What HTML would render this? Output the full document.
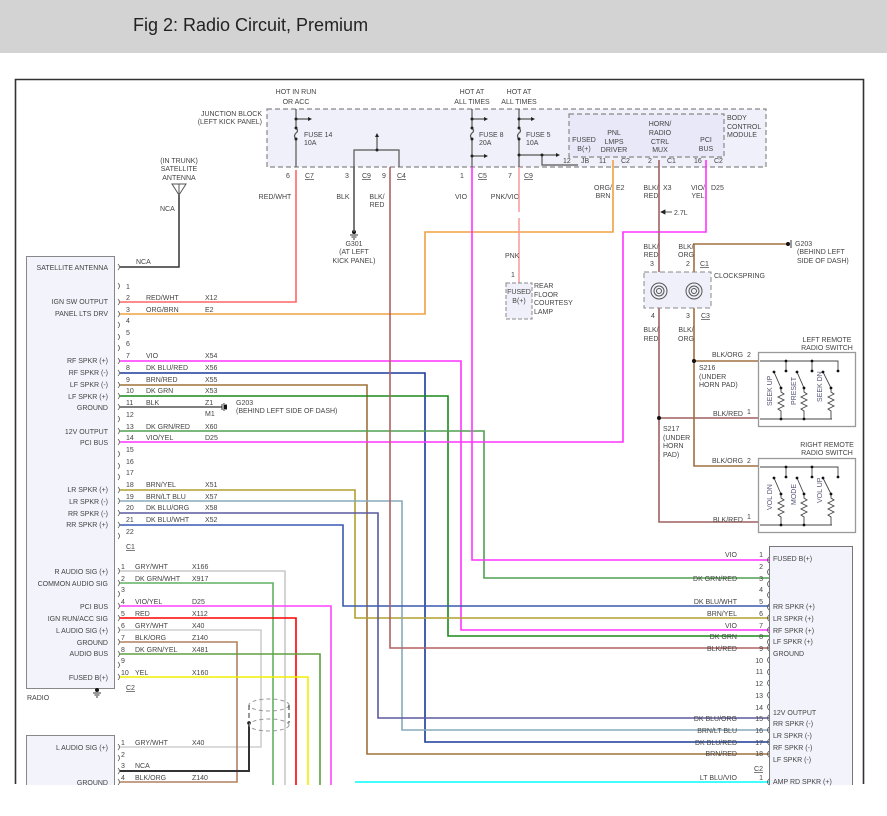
<!DOCTYPE html>
<html><head><meta charset="utf-8"><style>
html,body{margin:0;padding:0;background:#fff;}
svg{display:block;}
text{font-family:"Liberation Sans",sans-serif;font-size:7px;fill:#444;}
.l{text-anchor:end;}
.m{text-anchor:middle;}
</style></head><body>
<svg width="887" height="816" viewBox="0 0 887 816" xmlns="http://www.w3.org/2000/svg">
<rect x="0" y="0" width="887" height="53" fill="#d3d3d3"/>
<text x="133" y="31" style="font-size:18px;fill:#222;">Fig 2: Radio Circuit, Premium</text>
<path d="M15.5 784 V79.5 H863.5 V784" fill="none" stroke="#333" stroke-width="1.6"/>

<rect x="267" y="109" width="499" height="58" fill="#f0f0fa" stroke="#888" stroke-width="1.2" stroke-dasharray="5,3"/>
<rect x="569" y="114" width="155" height="43" fill="#e8e8f8" stroke="#888" stroke-width="1.2" stroke-dasharray="5,3"/>
<text class="l" x="262" y="116">JUNCTION BLOCK</text>
<text class="l" x="262" y="124">(LEFT KICK PANEL)</text>
<text class="m" x="296" y="94">HOT IN RUN</text><text class="m" x="296" y="104">OR ACC</text>
<text class="m" x="472" y="94">HOT AT</text><text class="m" x="472" y="104">ALL TIMES</text>
<text class="m" x="519" y="94">HOT AT</text><text class="m" x="519" y="104">ALL TIMES</text>
<text x="727" y="120">BODY</text><text x="727" y="129">CONTROL</text><text x="727" y="137">MODULE</text>
<text class="m" x="584" y="142">FUSED</text><text class="m" x="584" y="151">B(+)</text>
<text class="m" x="614" y="135">PNL</text><text class="m" x="614" y="144">LMPS</text><text class="m" x="614" y="152">DRIVER</text>
<text class="m" x="660" y="126">HORN/</text><text class="m" x="660" y="135">RADIO</text><text class="m" x="660" y="144">CTRL</text><text class="m" x="660" y="152">MUX</text>
<text class="m" x="706" y="142">PCI</text><text class="m" x="706" y="151">BUS</text>
<g stroke="#555" stroke-width="1.2" fill="none">
<path d="M296 109 V128 M296 139 V167 M296 119 H308"/>
<path d="M296 128 q3 3 0 5 q-3 3 0 6"/>
<path d="M472 109 V128 M472 139 V167 M472 119 H484 M472 156 H484"/>
<path d="M472 128 q3 3 0 5 q-3 3 0 6"/>
<path d="M519 109 V128 M519 139 V167 M519 119 H531 M519 155 H556 M542 155 V165 H578"/>
<path d="M519 128 q3 3 0 5 q-3 3 0 6"/>
<path d="M354 167 V150 H399 V167 M377 150 V136"/>
</g>
<g fill="#222"><circle cx="296" cy="119" r="1.5"/><circle cx="296" cy="128" r="1.5"/><circle cx="296" cy="139" r="1.5"/>
<circle cx="472" cy="119" r="1.5"/><circle cx="472" cy="128" r="1.5"/><circle cx="472" cy="139" r="1.5"/><circle cx="472" cy="156" r="1.5"/>
<circle cx="519" cy="119" r="1.5"/><circle cx="519" cy="128" r="1.5"/><circle cx="519" cy="139" r="1.5"/><circle cx="519" cy="155" r="1.5"/><circle cx="542" cy="155" r="1.5"/><circle cx="377" cy="150" r="1.5"/>
<path d="M308 117 l4 2 l-4 2z M484 117 l4 2 l-4 2z M484 154 l4 2 l-4 2z M531 117 l4 2 l-4 2z M556 153 l4 2 l-4 2z M375 137 l2 -4 l2 4z"/></g>
<text x="304" y="137">FUSE 14</text><text x="304" y="145">10A</text>
<text x="479" y="137">FUSE 8</text><text x="479" y="145">20A</text>
<text x="526" y="137">FUSE 5</text><text x="526" y="145">10A</text>
<text x="286" y="178">6</text><text x="305" y="178" text-decoration="underline">C7</text>
<text x="345" y="178">3</text><text x="362" y="178" text-decoration="underline">C9</text>
<text x="382" y="178">9</text><text x="397" y="178" text-decoration="underline">C4</text>
<text x="460" y="178">1</text><text x="478" y="178" text-decoration="underline">C5</text>
<text x="508" y="178">7</text><text x="524" y="178" text-decoration="underline">C9</text>
<text x="563" y="163">12</text><text x="581" y="163">JB</text>
<text x="599" y="163">11</text><text x="621" y="163">C2</text>
<text x="648" y="163">2</text><text x="667" y="163">C1</text>
<text x="694" y="163">16</text><text x="714" y="163">C2</text>
<text class="m" x="275" y="199">RED/WHT</text>
<text class="m" x="343" y="199">BLK</text>
<text class="m" x="377" y="199">BLK/</text><text class="m" x="377" y="207">RED</text>
<text class="m" x="461" y="199">VIO</text>
<text class="m" x="505" y="199">PNK/VIO</text>
<text class="m" x="603" y="190">ORG/</text><text class="m" x="603" y="198">BRN</text><text x="616" y="190">E2</text>
<text class="m" x="651" y="190">BLK/</text><text class="m" x="651" y="198">RED</text><text x="663" y="190">X3</text>
<text class="m" x="698" y="190">VIO/</text><text class="m" x="698" y="198">YEL</text><text x="711" y="190">D25</text>
<text x="674" y="215">2.7L</text>
<path d="M661 212 l4 -2 v4z M665 212 H672" fill="#222" stroke="#222" stroke-width="0.8"/>
<text class="m" x="354" y="246">G301</text><text class="m" x="354" y="254">(AT LEFT</text><text class="m" x="354" y="263">KICK PANEL)</text>
<circle cx="354" cy="232" r="2" fill="#111"/><path d="M350 235 H358 M351.5 237 H356.5 M353 239 H355" stroke="#333"/>
<text class="m" x="179" y="163">(IN TRUNK)</text><text class="m" x="179" y="171">SATELLITE</text><text class="m" x="179" y="180">ANTENNA</text>
<path d="M172 184 H186 L179 195 Z M179 184 V195" fill="none" stroke="#555"/>
<text x="160" y="211">NCA</text>
<path d="M120 267 H179 V195" fill="none" stroke="#333" stroke-width="1.5"/>
<text x="136" y="264">NCA</text>

<rect x="26.5" y="256.5" width="88" height="432" fill="#f3f3fc" stroke="#888"/>
<text x="27" y="700">RADIO</text>
<circle cx="97" cy="690" r="2" fill="#111"/><path d="M93 693 H101 M94.5 695 H99.5 M96 697 H98" stroke="#333"/>
<rect x="26.5" y="735.5" width="88" height="60" fill="#f3f3fc" stroke="#888"/>
<rect x="0" y="785" width="887" height="31" fill="#fff"/>

<g fill="none" stroke-width="1.6">
<path d="M120 302 H296 V170" stroke="#f66"/>
<path d="M120 314 H425 V232 H613 V160" stroke="#f0a040"/>
<path d="M120 361 H461 V630 H769" stroke="#ff33ff"/>
<path d="M120 373 H425 V742 H769" stroke="#1a3a9a"/>
<path d="M120 385 H367 V754 H769" stroke="#a0703a"/>
<path d="M120 396 H448 V636 H769" stroke="#1a8a1a"/>
<path d="M120 407 H222" stroke="#555"/>
<path d="M120 431 H484 V578 H769" stroke="#50a050"/>
<path d="M120 442 H623 V232 H706 V160" stroke="#ff33ff"/>
<path d="M120 490 H355 V618 H769" stroke="#b0a030"/>
<path d="M120 501 H402 V730 H769" stroke="#8ab"/>
<path d="M120 513 H378 V718 H769" stroke="#5a5aa0"/>
<path d="M120 525 H343 V606 H769" stroke="#3a5ab0"/>
<path d="M472 167 V560 H769" stroke="#ff33ff"/>
<path d="M390 167 V648 H769" stroke="#b06060"/>
<path d="M354 167 V232" stroke="#555"/>
<path d="M519 167 V212" stroke="#f8a0a0"/>
<path d="M519 218 V283" stroke="#f8a0a0"/>
<path d="M355 782 H769" stroke="#00ffff"/>
<path d="M120 571 H285 V790" stroke="#c8c8c8"/>
<path d="M120 583 H273 V790" stroke="#60b060"/>
<path d="M120 606 H331 V790" stroke="#ff44ff"/>
<path d="M120 618 H296 V790" stroke="#ff0000"/>
<path d="M120 630 H261 V747 H120" stroke="#cfcfcf"/>
<path d="M120 642 H237 V782 H120" stroke="#b08060"/>
<path d="M120 654 H320 V790" stroke="#60a040"/>
<path d="M120 677 H308 V790" stroke="#f0f000"/>
<path d="M120 771 H249 V723" stroke="#333" stroke-width="2"/>
<path d="M659 160 V272 M659 308 V522 H758 M659 418 H758" stroke="#a06060"/>
<path d="M788 244 H694 V272 M694 308 V466 H758 M694 361 H758" stroke="#a07040"/>
</g>
<circle cx="249" cy="723" r="1.8" fill="#111"/>
<circle cx="659" cy="418" r="2" fill="#111"/><circle cx="694" cy="361" r="2" fill="#111"/>
<g fill="none" stroke="#999" stroke-dasharray="4,3"><ellipse cx="269" cy="705" rx="20" ry="6"/><ellipse cx="269" cy="725" rx="20" ry="6"/></g>
<path d="M249 705 V723 M289 705 V723" stroke="#333" stroke-dasharray="5,3"/>
<path d="M222 404 V410 M224 403 V411 M226 404 V410" stroke="#333"/><rect x="224" y="405" width="3" height="4" fill="#111"/>
<text x="236" y="405">G203</text><text x="236" y="413">(BEHIND LEFT SIDE OF DASH)</text>
<text x="205" y="416">M1</text>
<circle cx="788" cy="244" r="2" fill="#111"/><path d="M791 240 V248" stroke="#333"/>
<text x="795" y="246">G203</text><text x="797" y="254">(BEHIND LEFT</text><text x="797" y="263">SIDE OF DASH)</text>

<rect x="506" y="283" width="26" height="36" fill="#f0f0fa" stroke="#888" stroke-dasharray="4,2"/>
<text class="m" x="519" y="294">FUSED</text><text class="m" x="519" y="303">B(+)</text>
<text x="534" y="288">REAR</text><text x="534" y="297">FLOOR</text><text x="534" y="305">COURTESY</text><text x="534" y="314">LAMP</text>
<text x="505" y="258">PNK</text><text x="511" y="277">1</text>

<rect x="644" y="272" width="67" height="36" fill="#f0f0fa" stroke="#888" stroke-dasharray="5,3"/>
<g fill="none" stroke="#555"><circle cx="659" cy="291" r="8"/><circle cx="659" cy="291" r="5"/><circle cx="659" cy="291" r="2.5"/>
<circle cx="694" cy="291" r="8"/><circle cx="694" cy="291" r="5"/><circle cx="694" cy="291" r="2.5"/></g>
<text x="714" y="278">CLOCKSPRING</text>
<text class="m" x="651" y="249">BLK/</text><text class="m" x="651" y="257">RED</text>
<text class="m" x="686" y="249">BLK/</text><text class="m" x="686" y="257">ORG</text>
<text x="650" y="266">3</text><text x="686" y="266">2</text><text x="700" y="266" text-decoration="underline">C1</text>
<text x="651" y="318">4</text><text x="686" y="318">3</text><text x="701" y="318" text-decoration="underline">C3</text>
<text class="m" x="651" y="332">BLK/</text><text class="m" x="651" y="341">RED</text>
<text class="m" x="686" y="332">BLK/</text><text class="m" x="686" y="341">ORG</text>
<text x="699" y="370">S216</text><text x="699" y="379">(UNDER</text><text x="699" y="387">HORN PAD)</text>
<text x="663" y="431">S217</text><text x="663" y="440">(UNDER</text><text x="663" y="448">HORN</text><text x="663" y="457">PAD)</text>
<text x="712" y="357">BLK/ORG</text><text x="747" y="357">2</text>
<text x="713" y="416">BLK/RED</text><text x="747" y="414">1</text>
<text x="712" y="463">BLK/ORG</text><text x="747" y="463">2</text>
<text x="713" y="522">BLK/RED</text><text x="747" y="519">1</text>

<g id="sw1">
<rect x="758.5" y="352.5" width="97" height="74" fill="#fff" stroke="#999" stroke-width="1.3"/>
<g fill="none" stroke="#444" stroke-width="0.9">
<path d="M760 361 H838 V371 M786 361 V371 M812 361 V371 M760 419 H832"/>
<path d="M774 372 L781 388 M797 372 L804 388 M823 372 L831 388"/>
<path d="M781 388 V392 l3 2 l-6 3 l6 3 l-6 3 l6 3 l-6 3 l3 2 V419 M804 388 V392 l3 2 l-6 3 l6 3 l-6 3 l6 3 l-6 3 l3 2 V419 M831 388 V392 l3 2 l-6 3 l6 3 l-6 3 l6 3 l-6 3 l3 2 V419"/>
</g>
<g fill="#111"><circle cx="786" cy="361" r="1.4"/><circle cx="786" cy="371" r="1.4"/><circle cx="812" cy="361" r="1.4"/><circle cx="812" cy="371" r="1.4"/><circle cx="838" cy="371" r="1.4"/>
<circle cx="774" cy="372" r="1.4"/><circle cx="797" cy="372" r="1.4"/><circle cx="823" cy="372" r="1.4"/>
<circle cx="781" cy="388" r="1.4"/><circle cx="804" cy="388" r="1.4"/><circle cx="831" cy="388" r="1.4"/>
<circle cx="781" cy="419" r="1.4"/><circle cx="804" cy="419" r="1.4"/></g>
</g>
<text transform="translate(772,406) rotate(-90)" style="fill:#557">SEEK UP</text>
<text transform="translate(796,405) rotate(-90)" style="fill:#557">PRESET</text>
<text transform="translate(822,402) rotate(-90)" style="fill:#557">SEEK DN</text>
<text class="m" x="827" y="342">LEFT REMOTE</text><text class="m" x="827" y="350">RADIO SWITCH</text>
<use href="#sw1" transform="translate(0,106)"/>
<text transform="translate(772,510) rotate(-90)" style="fill:#557">VOL DN</text>
<text transform="translate(796,505) rotate(-90)" style="fill:#557">MODE</text>
<text transform="translate(822,503) rotate(-90)" style="fill:#557">VOL UP</text>
<text class="m" x="827" y="447">RIGHT REMOTE</text><text class="m" x="827" y="455">RADIO SWITCH</text>

<g>
<text class="l" x="108" y="270">SATELLITE ANTENNA</text>
<text class="l" x="108" y="304">IGN SW OUTPUT</text>
<text class="l" x="108" y="316">PANEL LTS DRV</text>
<text class="l" x="108" y="363">RF SPKR (+)</text>
<text class="l" x="108" y="375">RF SPKR (-)</text>
<text class="l" x="108" y="387">LF SPKR (-)</text>
<text class="l" x="108" y="399">LF SPKR (+)</text>
<text class="l" x="108" y="410">GROUND</text>
<text class="l" x="108" y="434">12V OUTPUT</text>
<text class="l" x="108" y="445">PCI BUS</text>
<text class="l" x="108" y="492">LR SPKR (+)</text>
<text class="l" x="108" y="504">LR SPKR (-)</text>
<text class="l" x="108" y="516">RR SPKR (-)</text>
<text class="l" x="108" y="527">RR SPKR (+)</text>
</g>
<g>
<text x="126" y="289">1</text><text x="126" y="300">2</text><text x="126" y="312">3</text><text x="126" y="323">4</text><text x="126" y="335">5</text><text x="126" y="346">6</text>
<text x="126" y="358">7</text><text x="126" y="370">8</text><text x="126" y="382">9</text><text x="126" y="393">10</text><text x="126" y="405">11</text><text x="126" y="417">12</text>
<text x="126" y="429">13</text><text x="126" y="440">14</text><text x="126" y="452">15</text><text x="126" y="464">16</text><text x="126" y="475">17</text>
<text x="126" y="487">18</text><text x="126" y="499">19</text><text x="126" y="510">20</text><text x="126" y="522">21</text><text x="126" y="534">22</text>
<text x="126" y="549" text-decoration="underline">C1</text>
</g>
<g>
<text x="146" y="300">RED/WHT</text><text x="205" y="300">X12</text>
<text x="146" y="312">ORG/BRN</text><text x="205" y="312">E2</text>
<text x="146" y="358">VIO</text><text x="205" y="358">X54</text>
<text x="146" y="370">DK BLU/RED</text><text x="205" y="370">X56</text>
<text x="146" y="382">BRN/RED</text><text x="205" y="382">X55</text>
<text x="146" y="393">DK GRN</text><text x="205" y="393">X53</text>
<text x="146" y="405">BLK</text><text x="205" y="405">Z1</text>
<text x="146" y="429">DK GRN/RED</text><text x="205" y="429">X60</text>
<text x="146" y="440">VIO/YEL</text><text x="205" y="440">D25</text>
<text x="146" y="487">BRN/YEL</text><text x="205" y="487">X51</text>
<text x="146" y="499">BRN/LT BLU</text><text x="205" y="499">X57</text>
<text x="146" y="510">DK BLU/ORG</text><text x="205" y="510">X58</text>
<text x="146" y="522">DK BLU/WHT</text><text x="205" y="522">X52</text>
</g>
<g fill="none" stroke="#555" stroke-width="0.8">
<path d="M118 264 q3 3 0 6 M118 283 q3 3 0 6 M118 299 q3 3 0 6 M118 311 q3 3 0 6 M118 322 q3 3 0 6 M118 334 q3 3 0 6 M118 345 q3 3 0 6 M118 358 q3 3 0 6 M118 370 q3 3 0 6 M118 382 q3 3 0 6 M118 393 q3 3 0 6 M118 404 q3 3 0 6 M118 416 q3 3 0 6 M118 428 q3 3 0 6 M118 439 q3 3 0 6 M118 451 q3 3 0 6 M118 463 q3 3 0 6 M118 474 q3 3 0 6 M118 487 q3 3 0 6 M118 498 q3 3 0 6 M118 510 q3 3 0 6 M118 522 q3 3 0 6 M118 533 q3 3 0 6"/>
<path d="M118 568 q3 3 0 6 M118 580 q3 3 0 6 M118 591 q3 3 0 6 M118 603 q3 3 0 6 M118 615 q3 3 0 6 M118 627 q3 3 0 6 M118 639 q3 3 0 6 M118 651 q3 3 0 6 M118 662 q3 3 0 6 M118 674 q3 3 0 6 M118 744 q3 3 0 6 M118 755 q3 3 0 6 M118 768 q3 3 0 6 M118 779 q3 3 0 6"/>
</g>
<g>
<text class="l" x="108" y="574">R AUDIO SIG (+)</text>
<text class="l" x="108" y="586">COMMON AUDIO SIG</text>
<text class="l" x="108" y="609">PCI BUS</text>
<text class="l" x="108" y="621">IGN RUN/ACC SIG</text>
<text class="l" x="108" y="633">L AUDIO SIG (+)</text>
<text class="l" x="108" y="645">GROUND</text>
<text class="l" x="108" y="656">AUDIO BUS</text>
<text class="l" x="108" y="680">FUSED B(+)</text>
<text class="l" x="108" y="750">L AUDIO SIG (+)</text>
<text class="l" x="108" y="785">GROUND</text>
<text x="121" y="569">1</text><text x="121" y="581">2</text><text x="121" y="592">3</text><text x="121" y="604">4</text><text x="121" y="616">5</text><text x="121" y="628">6</text><text x="121" y="640">7</text><text x="121" y="652">8</text><text x="121" y="663">9</text><text x="121" y="675">10</text>
<text x="126" y="690" text-decoration="underline">C2</text>
<text x="135" y="569">GRY/WHT</text><text x="192" y="569">X166</text>
<text x="135" y="581">DK GRN/WHT</text><text x="192" y="581">X917</text>
<text x="135" y="604">VIO/YEL</text><text x="192" y="604">D25</text>
<text x="135" y="616">RED</text><text x="192" y="616">X112</text>
<text x="135" y="628">GRY/WHT</text><text x="192" y="628">X40</text>
<text x="135" y="640">BLK/ORG</text><text x="192" y="640">Z140</text>
<text x="135" y="652">DK GRN/YEL</text><text x="192" y="652">X481</text>
<text x="135" y="675">YEL</text><text x="192" y="675">X160</text>
<text x="121" y="745">1</text><text x="121" y="757">2</text><text x="121" y="768">3</text><text x="121" y="780">4</text>
<text x="135" y="745">GRY/WHT</text><text x="192" y="745">X40</text>
<text x="135" y="768">NCA</text>
<text x="135" y="780">BLK/ORG</text><text x="192" y="780">Z140</text>
</g>

<rect x="769.5" y="546.5" width="83" height="240" fill="#f3f3fc" stroke="#777"/>
<rect x="0" y="785" width="887" height="31" fill="#fff"/>
<g fill="none" stroke="#555" stroke-width="0.8">
<path d="M769 557 q-3 3 0 6 M769 569 q-3 3 0 6 M769 581 q-3 3 0 6 M769 592 q-3 3 0 6 M769 604 q-3 3 0 6 M769 615 q-3 3 0 6 M769 627 q-3 3 0 6 M769 639 q-3 3 0 6 M769 645 q-3 3 0 6 M769 657 q-3 3 0 6 M769 669 q-3 3 0 6 M769 680 q-3 3 0 6 M769 692 q-3 3 0 6 M769 704 q-3 3 0 6 M769 715 q-3 3 0 6 M769 727 q-3 3 0 6 M769 739 q-3 3 0 6 M769 751 q-3 3 0 6 M769 779 q-3 3 0 6"/>
</g>
<g>
<text x="773" y="561">FUSED B(+)</text>
<text x="773" y="609">RR SPKR (+)</text>
<text x="773" y="621">LR SPKR (+)</text>
<text x="773" y="633">RF SPKR (+)</text>
<text x="773" y="644">LF SPKR (+)</text>
<text x="773" y="656">GROUND</text>
<text x="773" y="715">12V OUTPUT</text>
<text x="773" y="726">RR SPKR (-)</text>
<text x="773" y="738">LR SPKR (-)</text>
<text x="773" y="750">RF SPKR (-)</text>
<text x="773" y="762">LF SPKR (-)</text>
<text x="773" y="784">AMP RD SPKR (+)</text>
</g>
<g>
<text class="l" x="763" y="557">1</text><text class="l" x="763" y="569">2</text><text class="l" x="763" y="581">3</text><text class="l" x="763" y="592">4</text><text class="l" x="763" y="604">5</text><text class="l" x="763" y="616">6</text><text class="l" x="763" y="628">7</text><text class="l" x="763" y="639">8</text><text class="l" x="763" y="651">9</text><text class="l" x="763" y="663">10</text><text class="l" x="763" y="674">11</text><text class="l" x="763" y="686">12</text><text class="l" x="763" y="698">13</text><text class="l" x="763" y="710">14</text><text class="l" x="763" y="721">15</text><text class="l" x="763" y="733">16</text><text class="l" x="763" y="745">17</text><text class="l" x="763" y="756">18</text>
<text class="l" x="763" y="771" text-decoration="underline">C2</text><text class="l" x="763" y="780">1</text>
<text class="l" x="737" y="557">VIO</text>
<text class="l" x="737" y="581">DK GRN/RED</text>
<text class="l" x="737" y="604">DK BLU/WHT</text>
<text class="l" x="737" y="616">BRN/YEL</text>
<text class="l" x="737" y="628">VIO</text>
<text class="l" x="737" y="639">DK GRN</text>
<text class="l" x="737" y="651">BLK/RED</text>
<text class="l" x="737" y="721">DK BLU/ORG</text>
<text class="l" x="737" y="733">BRN/LT BLU</text>
<text class="l" x="737" y="745">DK BLU/RED</text>
<text class="l" x="737" y="756">BRN/RED</text>
<text class="l" x="737" y="780">LT BLU/VIO</text>
</g>
</svg>
</body></html>
